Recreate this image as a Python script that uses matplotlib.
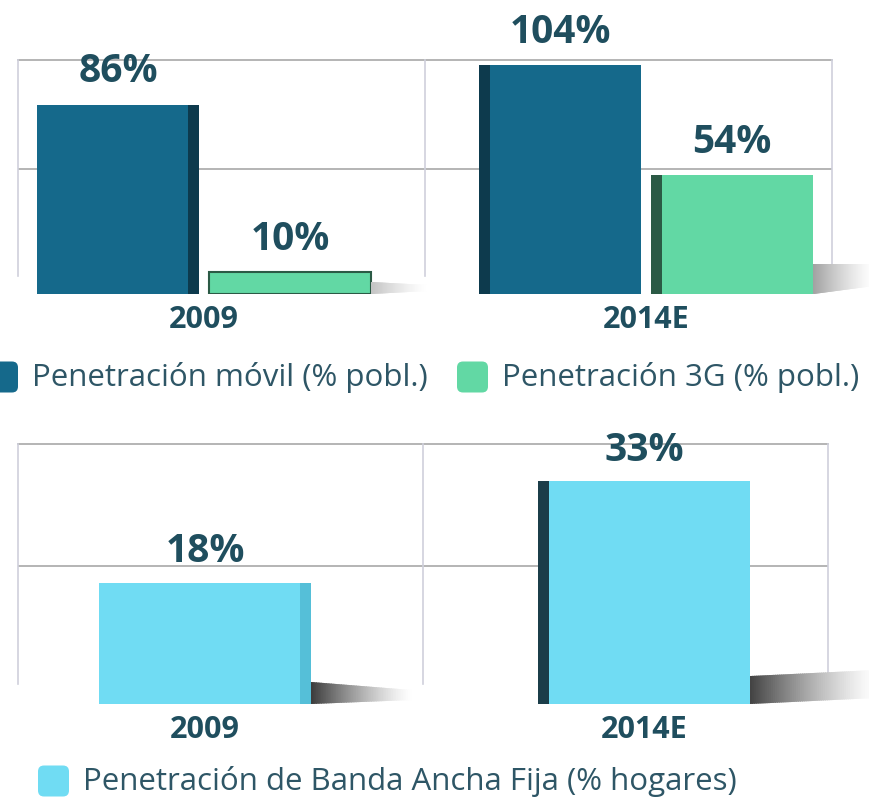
import matplotlib
matplotlib.use("Agg")
import matplotlib.pyplot as plt
from matplotlib.patches import FancyBboxPatch, Polygon
from matplotlib.colors import to_rgb
import numpy as np

# ---------------- data ----------------
years = ["2009", "2014E"]
movil = [86, 104]          # Penetración móvil (% pobl.)
tres_g = [10, 54]          # Penetración 3G (% pobl.)
banda_ancha = [18, 33]     # Penetración de Banda Ancha Fija (% hogares)
legend_top = ["Penetración móvil (% pobl.)", "Penetración 3G (% pobl.)"]
legend_bottom = ["Penetración de Banda Ancha Fija (% hogares)"]

# ---------------- style ----------------
W, H = 870, 803
C_MOVIL = "#15698b"
C_MOVIL_SIDE = "#0d3a4d"
C_3G = "#62d8a4"
C_3G_SIDE = "#2b5a45"
C_BA = "#70dcf3"
C_BA_SIDE_DARK = "#1b3d49"
C_BA_SIDE_LIGHT = "#55bfd8"
TXT = "#1f4e5e"
LEG_TXT = "#2e5666"
GRID_H = "#a8a8a8"
GRID_V = "#cfd0dc"
FONT = "Open Sans"

fig = plt.figure(figsize=(W / 100, H / 100), dpi=100)
fig.patch.set_facecolor("white")


def px_axes(l, t, r, b):
    return fig.add_axes([l / W, 1 - b / H, (r - l) / W, (b - t) / H])


def style_axes(ax, ytop, ymid, vline_frac):
    for s in ax.spines.values():
        s.set_visible(False)
    ax.set_yticks([])
    ax.tick_params(axis="x", length=0, pad=7)
    ax.set_facecolor("none")
    x0, x1 = ax.get_xlim()
    ax.axhline(ytop, color=GRID_H, lw=1.2, zorder=0, clip_on=False)
    ax.axhline(ymid, color=GRID_H, lw=1.2, zorder=0)
    for xv in (x0, (x0 + x1) / 2, x1):
        ax.axvline(xv, ymin=vline_frac, ymax=1, color=GRID_V, lw=1.2, zorder=0, clip_on=False)


def side_strip(ax, xs, vals, width, side_w, side, color, **kw):
    off = (width - side_w) / 2 * (1 if side == "right" else -1)
    ax.bar(np.asarray(xs) + off, vals, side_w, color=color, zorder=3, **kw)


def shadow(ax, xr, y0, length, h_near, h_far, rise, color, strength, n=60):
    px, py = ax.transData.transform((xr, y0))
    c = np.array(to_rgb(color))
    for i in range(n):
        f0, f1 = i / n, (i + 1) / n
        xa, xb = px + f0 * length, px + f1 * length + 1.0
        ha = h_near + (h_far - h_near) * f0
        hb = h_near + (h_far - h_near) * f1
        ra, rb = rise * f0, rise * f1
        a = strength * (1 - f0) ** 1.3
        col = a * c + (1 - a) * np.ones(3)
        poly = Polygon([(xa, py + ra), (xb, py + rb), (xb, py + rb + hb), (xa, py + ra + ha)],
                       closed=True, transform=None, facecolor=col,
                       edgecolor="none", zorder=0.5)
        fig.patches.append(poly)


# ---------------- top panel ----------------
ax1 = px_axes(18, 61, 832, 295)
x = np.arange(len(years))
scale1 = 442.0
bw1 = 162 / scale1
off1 = 86 / scale1
ax1.set_xlim(-186 / scale1, 1 + 186 / scale1)
ytop1 = (295 - 61) / 2.2
ax1.set_ylim(0, ytop1)
style_axes(ax1, ytop1, (295 - 170) / 2.2, 18 / 234)

b_m = ax1.bar(x - off1, movil, bw1, color=C_MOVIL, zorder=2)
b_g = ax1.bar(x + off1, tres_g, bw1, color=C_3G, zorder=2,
              edgecolor=[C_3G_SIDE, "none"], linewidth=[1.5, 0])
sw = 11 / scale1
side_strip(ax1, [x[0] - off1], [movil[0]], bw1, sw, "right", C_MOVIL_SIDE)
side_strip(ax1, [x[1] - off1], [movil[1]], bw1, sw, "left", C_MOVIL_SIDE)
side_strip(ax1, [x[1] + off1], [tres_g[1]], bw1, sw, "left", C_3G_SIDE)

ax1.set_xticks(x)
ax1.set_xticklabels(years, fontsize=22, fontweight="bold", color=TXT, family=FONT)

for bars, vals in ((b_m, movil), (b_g, tres_g)):
    for r, v in zip(bars, vals):
        ax1.annotate(f"{v}%", (r.get_x() + r.get_width() / 2, v), xytext=(0, 34),
                     textcoords="offset pixels", ha="center", va="center",
                     fontsize=28, fontweight="bold", color=TXT, family=FONT, zorder=5)

# ---------------- bottom panel ----------------
ax2 = px_axes(18, 445, 828, 705)
scale2 = 439.0
bw2 = 212 / scale2
ax2.set_xlim(-187 / scale2, 1 + 184 / scale2)
ytop2 = (705 - 445) / 6.75
ax2.set_ylim(0, ytop2)
style_axes(ax2, ytop2, (705 - 567) / 6.75, 20 / 260)

b_b = ax2.bar(x, banda_ancha, bw2, color=C_BA, zorder=2)
sw2 = 11 / scale2
side_strip(ax2, [x[0]], [banda_ancha[0]], bw2, sw2, "right", C_BA_SIDE_LIGHT)
side_strip(ax2, [x[1]], [banda_ancha[1]], bw2, sw2, "left", C_BA_SIDE_DARK)

ax2.set_xticks(x)
ax2.set_xticklabels(years, fontsize=22, fontweight="bold", color=TXT, family=FONT)
for r, v in zip(b_b, banda_ancha):
    ax2.annotate(f"{v}%", (r.get_x() + r.get_width() / 2, v), xytext=(0, 32),
                 textcoords="offset pixels", ha="center", va="center",
                 fontsize=28, fontweight="bold", color=TXT, family=FONT, zorder=5)

# shadows (decorative, derived from bar geometry)
fig.canvas.draw()
shadow(ax1, x[0] + off1 + bw1 / 2, 0, 55, 12, 6, 3, "#555555", 0.35)
shadow(ax1, x[1] + off1 + bw1 / 2, 0, 60, 30, 22, 8, "#444444", 0.5)
shadow(ax2, x[0] + bw2 / 2, 0, 100, 22, 10, 4, "#333333", 0.95)
shadow(ax2, x[1] + bw2 / 2, 0, 125, 28, 28, 6, "#3a3a3a", 0.95)

# ---------------- legends ----------------
def legend_item(xl, yc, color, label, size=31):
    yb = H - yc - size / 2
    p = FancyBboxPatch((xl, yb), size, size, boxstyle="round,pad=0,rounding_size=6",
                       transform=None, facecolor=color, edgecolor="none")
    fig.patches.append(p)
    fig.text((xl + size + 14) / W, (H - yc) / H, label, ha="left", va="center",
             fontsize=22.5, color=LEG_TXT, family=FONT)


legend_item(-13, 378, C_MOVIL, legend_top[0])
legend_item(457, 378, C_3G, legend_top[1])
legend_item(38, 782, C_BA, legend_bottom[0])

fig.savefig("out.png", dpi=100)
